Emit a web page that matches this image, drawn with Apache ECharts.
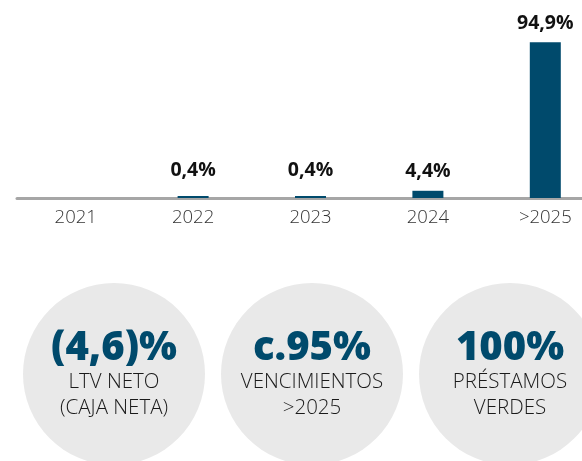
<!DOCTYPE html>
<html>
<head>
<meta charset="utf-8">
<script src="https://cdn.jsdelivr.net/npm/echarts@6/dist/echarts.min.js"></script>
<style>
html,body{margin:0;padding:0;background:#fff}
#main{width:582px;height:461px}
</style>
</head>
<body>
<div id="main"></div>
<script>
// vencimientos de deuda por año (%)
var years = ['2021', '2022', '2023', '2024', '>2025'];
var vencimientos = [0, 0.4, 0.4, 4.4, 94.9];

// indicadores de los círculos
var kpiValues = ['(4,6)%', 'c.95%', '100%'];
var kpiLine1 = ['LTV NETO', 'VENCIMIENTOS', 'PRÉSTAMOS'];
var kpiLine2 = ['(CAJA NETA)', '>2025', 'VERDES'];

var azul = '#004a6c';

function pct(v) {
    return v.toFixed(1).replace('.', ',') + '%';
}

// circulos + textos con graphic
var graphics = [];
var circX = [114, 312, 510];
for (var i = 0; i < kpiValues.length; i++) {
    graphics.push({
        type: 'circle',
        shape: {cx: circX[i], cy: 374, r: 91},
        style: {fill: '#e9e9e9'},
        z: 0
    });
    graphics.push({
        type: 'text', x: circX[i], y: 349, z: 1,
        style: {
            text: kpiValues[i], align: 'center', verticalAlign: 'middle',
            fontFamily: 'Open Sans', fontWeight: 800, fontSize: 40, fill: azul
        }
    });
    graphics.push({
        type: 'text', x: circX[i], y: 382, z: 1,
        style: {
            text: kpiLine1[i], align: 'center', verticalAlign: 'middle',
            fontFamily: 'Open Sans', fontWeight: 300, fontSize: 20.5, fill: '#1a1a1a'
        }
    });
    graphics.push({
        type: 'text', x: circX[i], y: 408, z: 1,
        style: {
            text: kpiLine2[i], align: 'center', verticalAlign: 'middle',
            fontFamily: 'Open Sans', fontWeight: 300, fontSize: 20.5, fill: '#1a1a1a'
        }
    });
}

var myChart = echarts.init(document.getElementById('main'));
myChart.setOption({
    animation: false,
    grid: {left: 17, top: 34, width: 587, height: 164, outerBoundsMode: 'none', containLabel: false},
    xAxis: {
        type: 'category',
        data: years,
        axisLine: {lineStyle: {color: '#a6a6a6', width: 3}},
        axisTick: {show: false},
        axisLabel: {
            color: '#333',
            fontFamily: 'Open Sans',
            fontWeight: 300,
            fontSize: 18.5,
            margin: 10
        }
    },
    yAxis: {
        type: 'value',
        min: 0,
        max: 100,
        show: false
    },
    series: [{
        type: 'bar',
        barWidth: 31,
        barMinHeight: 2,
        itemStyle: {color: azul},
        data: vencimientos.map(function (v) {
            if (!v) return '-';
            return {
                value: v,
                label: {distance: v < 1 ? 16 : 9}
            };
        }),
        label: {
            show: true,
            position: 'top',
            color: '#111',
            fontFamily: 'Open Sans',
            fontWeight: 'bold',
            fontSize: 19.5,
            formatter: function (p) {
                return pct(p.value);
            }
        }
    }],
    graphic: graphics
});
</script>
</body>
</html>
